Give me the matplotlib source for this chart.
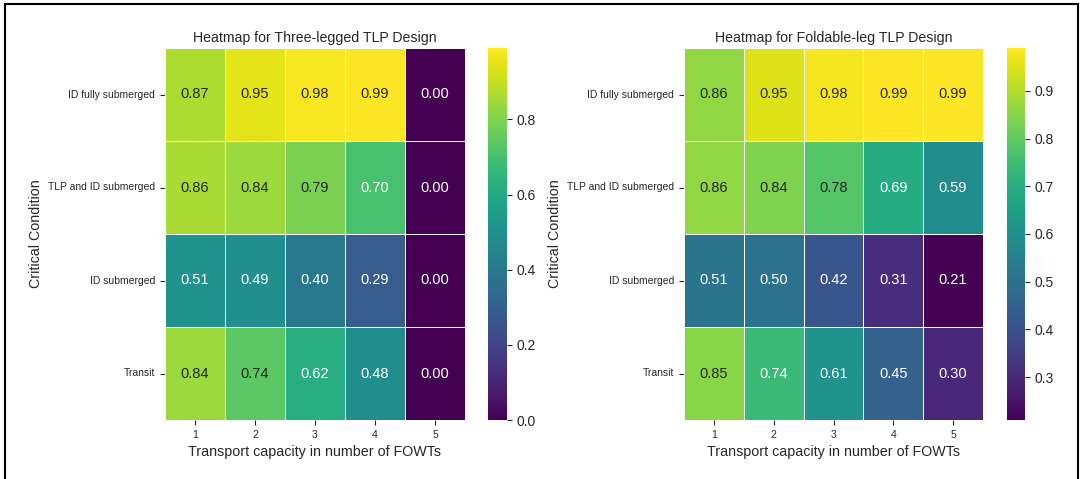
import numpy as np
import matplotlib
matplotlib.use("Agg")
import matplotlib.pyplot as plt
import seaborn as sns
from matplotlib.patches import Rectangle

sns.set_style("ticks")
plt.rcParams['font.family'] = ['Liberation Sans', 'DejaVu Sans']

# Critical conditions (rows) and transport capacity (columns)
conditions = ["ID fully submerged", "TLP and ID submerged", "ID submerged", "Transit"]
capacity = [1, 2, 3, 4, 5]

# Three-legged TLP design
three_legged = np.array([
    [0.87, 0.95, 0.98, 0.99, 0.00],
    [0.86, 0.84, 0.79, 0.70, 0.00],
    [0.51, 0.49, 0.40, 0.29, 0.00],
    [0.84, 0.74, 0.62, 0.48, 0.00],
])

# Foldable-leg TLP design
foldable_leg = np.array([
    [0.86, 0.95, 0.98, 0.99, 0.99],
    [0.86, 0.84, 0.78, 0.69, 0.59],
    [0.51, 0.50, 0.42, 0.31, 0.21],
    [0.85, 0.74, 0.61, 0.45, 0.30],
])

titles = ["Heatmap for Three-legged TLP Design", "Heatmap for Foldable-leg TLP Design"]

W, H = 1082, 479
fig = plt.figure(figsize=(W / 100, H / 100), dpi=100)

# pixel boxes: (left, right) of heatmap and colorbar
boxes = [((165, 465), (488, 507)), ((684, 983), (1007, 1025))]
top, bottom = 48, 420

for data, title, (hm, cb) in zip([three_legged, foldable_leg], titles, boxes):
    ax = fig.add_axes([hm[0] / W, 1 - bottom / H, (hm[1] - hm[0]) / W, (bottom - top) / H])
    cax = fig.add_axes([cb[0] / W, 1 - bottom / H, (cb[1] - cb[0]) / W, (bottom - top) / H])
    sns.heatmap(data, ax=ax, cbar_ax=cax, cmap="viridis", annot=True, fmt=".2f",
                annot_kws={"fontsize": 10.5}, linewidths=0.5, linecolor="white",
                xticklabels=capacity, yticklabels=conditions)
    ax.set_title(title, fontsize=10.2, pad=4)
    ax.set_xlabel("Transport capacity in number of FOWTs", fontsize=10.3)
    ax.set_ylabel("Critical Condition", fontsize=10.3)
    ax.tick_params(axis="x", labelsize=7.5, rotation=0)
    ax.tick_params(axis="y", labelsize=7.5, rotation=0)
    cax.tick_params(labelsize=10)

# thin frame around the figure
fig.add_artist(Rectangle((5 / W, -0.05), 1073 / W, 1.05 - 4 / H,
                         transform=fig.transFigure, fill=False,
                         edgecolor="black", linewidth=1.5))

fig.savefig("out.png", dpi=100)
